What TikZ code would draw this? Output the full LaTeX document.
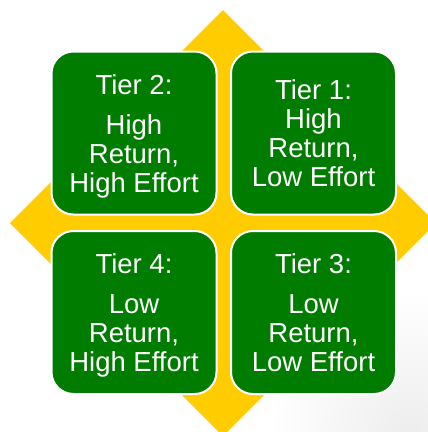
\documentclass[tikz,border=0pt]{standalone}
\usepackage{fontspec}
\setmainfont{Liberation Sans}
\definecolor{tiergreen}{RGB}{0,125,0}
\definecolor{arrowyellow}{RGB}{255,204,0}
\begin{document}
\begin{tikzpicture}[x=1pt,y=-1pt,
  tierbox/.style={draw=white, line width=2pt, fill=tiergreen, rounded corners=22pt,
    minimum width=165pt, minimum height=163pt, text=white, align=center,
    font=\fontsize{27.5}{29}\selectfont, inner sep=0pt}]
\useasboundingbox (0,0) rectangle (428,432);
\clip (0,0) rectangle (428,432);
% faint background texture bottom right
\shade[inner color=black!7, outer color=white] (410,432) circle (140);
% yellow four-point diamond
\fill[arrowyellow] (223,10) coordinate (ptop) -- (436,223) coordinate (pright)
  -- (223,436) coordinate (pbottom) -- (10,223) coordinate (pleft) -- cycle;
% tiers
\node[tierbox] (t2) at (134,133) {\rule{0pt}{26pt}Tier 2:\\[11pt]High\\Return,\\High Effort};
\node[tierbox] (t1) at (313.5,133) {Tier 1:\\High\\Return,\\Low Effort};
\node[tierbox] (t4) at (134,312.5) {\rule{0pt}{26pt}Tier 4:\\[11pt]Low\\Return,\\High Effort};
\node[tierbox] (t3) at (313.5,312.5) {Tier 3:\\[11pt]Low\\Return,\\Low Effort};
\end{tikzpicture}
\end{document}
